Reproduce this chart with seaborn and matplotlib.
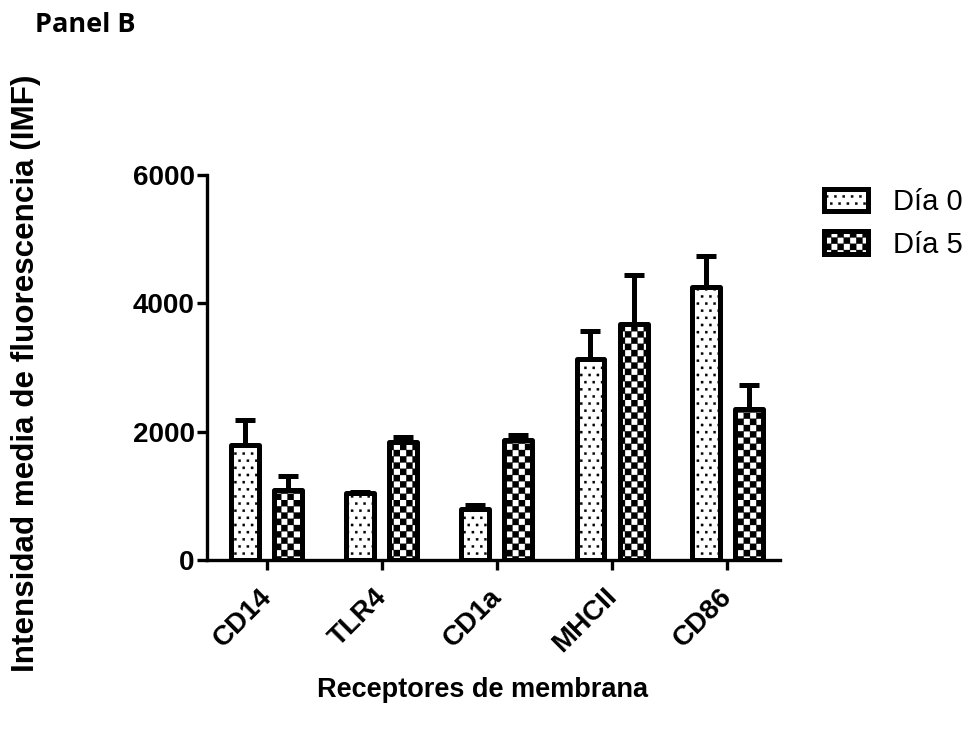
import numpy as np
import pandas as pd
import matplotlib
matplotlib.use("Agg")
import matplotlib.pyplot as plt
import matplotlib.hatch as mhatch
import matplotlib.transforms as mtransforms
from matplotlib.path import Path
import seaborn as sns

# Data: mean fluorescence intensity (IMF) and SEM per receptor and day
receptores = ["CD14", "TLR4", "CD1a", "MHCII", "CD86"]
dias = ["Día 0", "Día 5"]
media_dia0 = [1790, 1040, 790, 3130, 4260]
media_dia5 = [1090, 1840, 1870, 3680, 2350]
sem_dia0 = [390, 20, 60, 440, 485]
sem_dia5 = [215, 80, 75, 765, 375]


# Custom fill textures: staggered dot grid ('.') and checkerboard ('x')
class DotGrid(mhatch.HatchPatternBase):
    nx, ny, s = 12, 14, 0.011

    def __init__(self, hatch, density):
        self.on = "." in hatch
        self.num_vertices = self.nx * self.ny * 5 if self.on else 0

    def set_vertices_and_codes(self, vertices, codes):
        parts = []
        for r in range(self.ny):
            y = (r + 0.5) / self.ny
            for c in range(self.nx):
                x = (c + 0.25 + 0.5 * (r % 2)) / self.nx
                parts.append([[x - self.s, y - self.s], [x + self.s, y - self.s],
                              [x + self.s, y + self.s], [x - self.s, y + self.s],
                              [x - self.s, y - self.s]])
        vertices[:] = np.array(parts).reshape(-1, 2)
        one = [Path.MOVETO, Path.LINETO, Path.LINETO, Path.LINETO, Path.CLOSEPOLY]
        codes[:] = np.tile(one, self.nx * self.ny)


class Checker(mhatch.HatchPatternBase):
    n = 16

    def __init__(self, hatch, density):
        self.on = "x" in hatch
        self.count = self.n * self.n // 2
        self.num_vertices = self.count * 5 if self.on else 0

    def set_vertices_and_codes(self, vertices, codes):
        d = 1.0 / self.n
        parts = []
        for i in range(self.n):
            for j in range(self.n):
                if (i + j) % 2 == 0:
                    x0, y0 = i * d, j * d
                    parts.append([[x0, y0], [x0 + d, y0], [x0 + d, y0 + d],
                                  [x0, y0 + d], [x0, y0]])
        vertices[:] = np.array(parts).reshape(-1, 2)
        one = [Path.MOVETO, Path.LINETO, Path.LINETO, Path.LINETO, Path.CLOSEPOLY]
        codes[:] = np.tile(one, self.count)


mhatch._hatch_types = [DotGrid, Checker]

sns.set_theme(style="white")
plt.rcParams["font.family"] = ["Liberation Sans", "DejaVu Sans"]
plt.rcParams["hatch.linewidth"] = 0.2
plt.rcParams["hatch.color"] = "black"
for key in ["text.color", "axes.labelcolor", "xtick.color", "ytick.color",
            "axes.edgecolor"]:
    plt.rcParams[key] = "black"

df = pd.DataFrame({
    "Receptor": receptores * 2,
    "Día": [dias[0]] * 5 + [dias[1]] * 5,
    "IMF": media_dia0 + media_dia5,
    "SEM": sem_dia0 + sem_dia5,
})

fig = plt.figure(figsize=(9.72, 7.38), dpi=100)
ax = fig.add_axes([207 / 972, 1 - 560 / 738, (780 - 207) / 972, (560 - 175) / 738])

sns.barplot(data=df, x="Receptor", y="IMF", hue="Día", order=receptores,
            hue_order=dias, palette=["white", "white"], width=0.748, gap=0.35,
            errorbar=None, edgecolor="black", linewidth=3.6, ax=ax, zorder=3)

bar_containers = list(ax.containers)
hatches = ["..", "x"]
sems = [sem_dia0, sem_dia5]
for cont, h, err in zip(bar_containers, hatches, sems):
    xs, ys = [], []
    for p in cont.patches:
        p.set_hatch(h)
        p.set_joinstyle("round")
        xs.append(p.get_x() + p.get_width() / 2)
        ys.append(p.get_height())
    ax.errorbar(xs, ys, yerr=[np.zeros(len(err)), err], fmt="none",
                ecolor="black", elinewidth=3.6, capsize=7, capthick=3.6,
                zorder=2)

ax.set_xlim(-0.52, 4.46)
ax.set_ylim(0, 6000)
ax.set_yticks([0, 2000, 4000, 6000])
sns.despine(ax=ax)
for side in ["left", "bottom"]:
    ax.spines[side].set_linewidth(2.4)
    ax.spines[side].set_color("black")
ax.tick_params(axis="both", which="major", direction="out", length=7,
               width=2.4, color="black", pad=2, left=True, bottom=True)
ax.tick_params(axis="y", labelsize=20)
for lab in ax.get_yticklabels():
    lab.set_fontweight("bold")
ax.set_xticks(range(len(receptores)))
ax.set_xticklabels(receptores, rotation=45, ha="right", rotation_mode="anchor",
                   fontweight="bold", fontsize=20)
shift = mtransforms.ScaledTranslation(-8 / 100, -11 / 100, fig.dpi_scale_trans)
for lab in ax.get_xticklabels():
    lab.set_transform(lab.get_transform() + shift)

ax.set_xlabel("")
ax.set_ylabel("")
fig.text(482 / 972, 1 - 690 / 738, "Receptores de membrana",
         ha="center", va="center", fontsize=19.5, fontweight="bold")
fig.text(26 / 972, 1 - 373 / 738, "Intensidad media de fluorescencia (IMF)",
         ha="center", va="center", rotation=90, fontsize=22.6, fontweight="bold")
fig.text(35 / 972, 1 - 25 / 738, "Panel B", ha="left", va="center",
         fontsize=19.5, fontweight="bold", family=["Open Sans", "DejaVu Sans"])

handles = [cont.patches[0] for cont in bar_containers]
leg = ax.get_legend()
if leg is not None:
    leg.remove()
fig.legend(handles, dias, loc="upper left", bbox_to_anchor=(824 / 972, 1 - 188 / 738),
           frameon=False, fontsize=21, handlelength=1.5, handleheight=0.8,
           handletextpad=0.85, labelspacing=0.5, borderaxespad=0, borderpad=0)

fig.savefig("out.png", dpi=100, facecolor="white")
